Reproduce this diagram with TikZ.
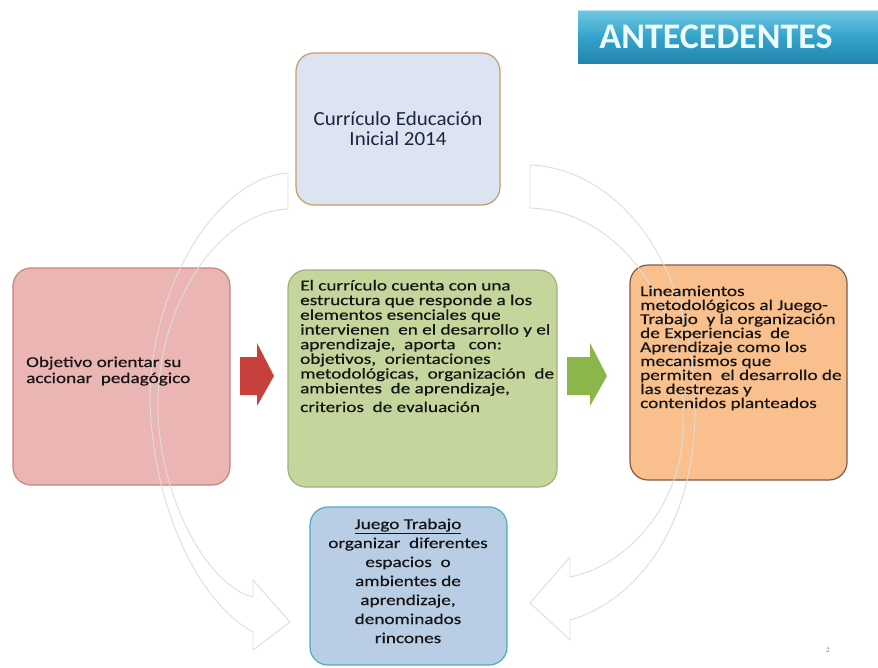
\documentclass[tikz,border=0pt]{standalone}
\usepackage{fontspec}
\setmainfont{Carlito}
\newfontfamily\bodyfont[FakeStretch=1.28,FakeBold=0.5]{Carlito}
\newfontfamily\topfont[FakeStretch=1.05]{Carlito}
\usetikzlibrary{calc}
\definecolor{topfill}{HTML}{DCE3F1}
\definecolor{topdraw}{HTML}{CC9A66}
\definecolor{pinkfill}{HTML}{EAB5B3}
\definecolor{pinkdraw}{HTML}{C9857F}
\definecolor{greenfill}{HTML}{C4D69C}
\definecolor{greendraw}{HTML}{9FB276}
\definecolor{orangefill}{HTML}{F9C08E}
\definecolor{orangedraw}{HTML}{7D5B48}
\definecolor{bluefill}{HTML}{B9CDE5}
\definecolor{bluedraw}{HTML}{4BACC6}
\definecolor{redarrow}{HTML}{C8403C}
\definecolor{greenarrow}{HTML}{8CB54A}
\definecolor{bannertop}{HTML}{72C9E3}
\definecolor{bannermid}{HTML}{34A3CB}
\definecolor{bannerbot}{HTML}{2385AE}
\definecolor{titlecol}{HTML}{EEFBFF}
\definecolor{txtdark}{HTML}{151515}
\definecolor{txtnavy}{HTML}{1C2440}
\definecolor{arcline}{HTML}{DDDDDD}
\tikzset{
  box/.style={draw, rounded corners=18pt, line width=1.2pt, inner sep=0pt},
  boxtxt/.style={inner sep=0pt, align=left, text=txtdark,
    font=\bodyfont\fontsize{15}{14.7}\selectfont},
  curarrow/.style={draw=arcline, line width=0.9pt, line join=round},
}
\begin{document}
\begin{tikzpicture}[x=1pt,y=-1pt]
\useasboundingbox (0,0) rectangle (878,667);
\fill[white] (0,0) rectangle (878,667);

% title banner
\shade[top color=bannertop, bottom color=bannerbot, middle color=bannermid]
  (578,10) rectangle (878,63);
\draw[line width=1pt, color=bannertop!50!white] (578,10.5) -- (878,10.5);
\node[font=\bfseries\fontsize{36}{40}\selectfont, text=titlecol, inner sep=0pt]
  (title) at (716,37) {ANTECEDENTES};

% boxes
\node[box, draw=topdraw, fill=topfill, minimum width=204pt, minimum height=152pt]
  (top) at (398,129) {};
\node[box, draw=pinkdraw, fill=pinkfill, minimum width=217pt, minimum height=217pt]
  (pink) at (121.5,376.5) {};
\node[box, draw=greendraw, fill=greenfill, minimum width=269pt, minimum height=217pt]
  (green) at (422.5,378.5) {};
\node[box, draw=orangedraw, fill=orangefill, minimum width=217pt, minimum height=215pt]
  (orange) at (738.5,372.5) {};
\node[box, draw=bluedraw, fill=bluefill, minimum width=197pt, minimum height=158pt]
  (bottom) at (408.5,586) {};

% block arrows
\fill[redarrow] (240,357) -- (257,357) -- (257,343) -- (274,376) -- (257,406)
  -- (257,395) -- (240,395) -- cycle;
\fill[greenarrow] (567,357) -- (590,357) -- (590,343) -- (607,376) -- (590,406)
  -- (590,395) -- (567,395) -- cycle;

% curved outline arrows
\draw[curarrow] (288,173) .. controls (215,178) and (150,290) .. (150,400)
  .. controls (152,500) and (195,600) .. (253,632) -- (253,650) -- (290,622)
  -- (253,580) -- (253,597) .. controls (205,585) and (156,490) .. (158,400)
  .. controls (160,300) and (220,212) .. (288,209) -- cycle;
\draw[curarrow] (530,165) .. controls (610,168) and (690,250) .. (695,400)
  .. controls (698,520) and (640,600) .. (570,620) -- (570,640) -- (530,603)
  -- (570,557) -- (570,577) .. controls (630,565) and (686,500) .. (683,420)
  .. controls (685,290) and (610,210) .. (530,208) -- cycle;

% texts (anchor base = baseline of the last line)
\node[inner sep=0pt, align=center, text=txtnavy,
  font=\topfont\fontsize{20}{20}\selectfont, anchor=base]
  (toptxt) at (398,145) {Currículo Educación\\Inicial 2014};
\node[boxtxt, anchor=base west, font=\bodyfont\fontsize{15}{16}\selectfont]
  (pinktxt) at (26,383) {Objetivo orientar su\\accionar\ \ pedagógico};
\node[boxtxt, anchor=base west] (greentxt) at (300,412)
  {El currículo cuenta con una\\
   estructura que responde a los\\
   elementos esenciales que\\
   intervienen\ \ en el desarrollo y el\\
   aprendizaje,\ \ aporta\ \ \ con:\\
   objetivos,\ \ orientaciones\\
   metodológicas,\ \ organización\ \ de\\
   ambientes\ \ de aprendizaje,\\[4pt]
   criterios\ \ de evaluación};
\node[boxtxt, anchor=base west, font=\bodyfont\fontsize{15}{14}\selectfont]
  (orangetxt) at (640,408)
  {Lineamientos\\
   metodológicos al Juego-\\
   Trabajo\ \ y la organización\\
   de Experiencias\ \ de\\
   Aprendizaje como los\\
   mecanismos que\\
   permiten\ \ el desarrollo de\\
   las destrezas y\\
   contenidos planteados};
\node[boxtxt, align=center, anchor=base, font=\bodyfont\fontsize{15}{19}\selectfont]
  (bottomtxt) at (408,643)
  {\underline{Juego Trabajo}\\
   organizar\ \ diferentes\\
   espacios\ \ o\\
   ambientes de\\
   aprendizaje,\\
   denominados\\
   rincones};
\node[inner sep=0pt, text=gray, font=\fontsize{7}{8}\selectfont] (pagenum) at (828,650) {2};
\end{tikzpicture}
\end{document}
